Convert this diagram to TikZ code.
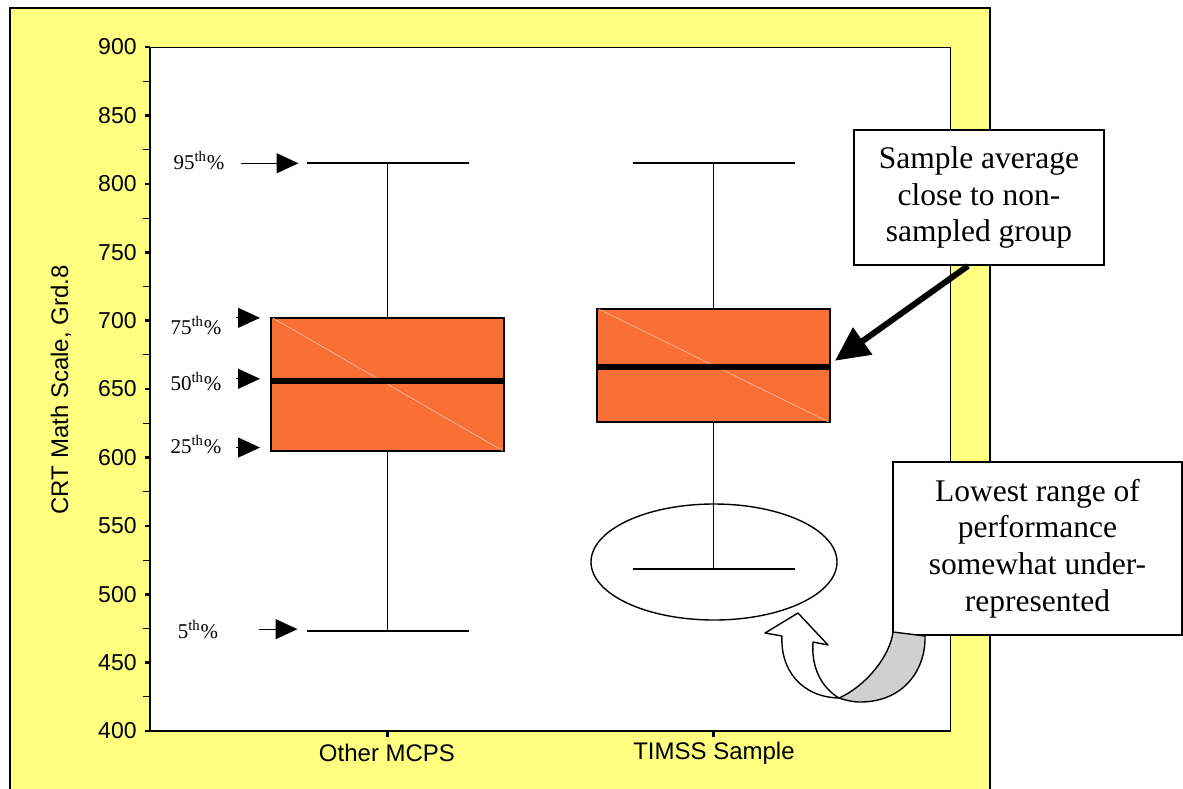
\documentclass[tikz,border=0pt]{standalone}
\usepackage{fontspec}
\setmainfont{Liberation Serif}
\setsansfont{Liberation Sans}
\usetikzlibrary{arrows.meta,positioning,calc,shapes.geometric}
\definecolor{frame}{HTML}{FFFF80}
\definecolor{boxfill}{HTML}{F87035}
\definecolor{backside}{HTML}{D0D0D0}
\newcommand{\val}[1]{731-(#1-400)*1.368}
\tikzset{
  ticklabel/.style={font=\sffamily\fontsize{11.5}{13}\selectfont,anchor=east,inner sep=0pt},
  catlabel/.style={font=\sffamily\fontsize{12}{14}\selectfont,inner sep=0pt},
  pct/.style={font=\fontsize{10.5}{12}\selectfont,inner sep=0pt},
  pctarrow/.style={-{Triangle[length=11pt,width=10pt]},line width=0.6pt},
  callout/.style={draw,line width=0.9pt,fill=white,align=center,font=\fontsize{15.75}{18.3}\selectfont,inner sep=0pt},
  pointer/.style={-{Triangle[length=17pt,width=16pt]},line width=3pt},
  whisker/.style={line width=0.8pt},
  iqr/.style={draw,line width=1pt,fill=boxfill},
  median/.style={line width=3pt},
  ribbon/.style={draw,line width=0.7pt,line join=round}
}
\begin{document}
\begin{tikzpicture}[x=0.5pt,y=-0.5pt]
  \useasboundingbox (0,0) rectangle (1183,788);
  \clip (0,0) rectangle (1183,788);
  \draw[line width=0.8pt,fill=frame] (10,8) rectangle (990,800);
  \draw[line width=0.5pt,fill=white] (150,47) rectangle (950,731);
  \draw[line width=1pt] (150,47) -- (150,731) -- (950,731);

  \foreach \v in {400,450,...,900} {
    \draw[line width=1.3pt] (145,{\val{\v}}) -- (150,{\val{\v}});
    \node[ticklabel] (yl\v) at (137,{\val{\v}}) {\v};
  }
  \foreach \v in {425,475,...,875}
    \draw[line width=0.5pt] (143,{\val{\v}}) -- (150,{\val{\v}});
  \node[catlabel,rotate=90] (ytitle) at (61,390) {CRT Math Scale, Grd.8};

  \foreach \g/\cx/\lo/\qa/\md/\qc/\hi in {other/387.5/473/605/656/702/815,timss/713.5/518.4/626/666.3/708.5/815} {
    \draw[line width=1.3pt] (\cx,731) -- (\cx,737);
    \draw[whisker] (\cx,{\val{\hi}}) -- (\cx,{\val{\lo}});
    \draw[whisker] ({\cx-81},{\val{\hi}}) -- ({\cx+81},{\val{\hi}});
    \draw[whisker] ({\cx-81},{\val{\lo}}) -- ({\cx+81},{\val{\lo}});
    \draw[iqr] ({\cx-116.5},{\val{\qa}}) rectangle ({\cx+116.5},{\val{\qc}});
    \draw[boxfill!45!white,line width=0.3pt] ({\cx-115},{\val{\qc}}) -- ({\cx+115},{\val{\qa}});
    \draw[median] ({\cx-116.5},{\val{\md}}) -- ({\cx+116.5},{\val{\md}});
    \coordinate (\g-hi) at ({\cx-81},{\val{\hi}});
    \coordinate (\g-lo) at ({\cx-81},{\val{\lo}});
    \coordinate (\g-q3) at ({\cx-116.5},{\val{\qc}});
    \coordinate (\g-md) at ({\cx-116.5},{\val{\md}});
    \coordinate (\g-q1) at ({\cx-116.5},{\val{\qa}});
    \coordinate (\g-mdr) at ({\cx+116.5},{\val{\md}});
  }
  \node[catlabel] (cat1) at (387,753) {Other MCPS};
  \node[catlabel] (cat2) at (714,753) {TIMSS Sample};

  \node[pct] (p95) at (199,161) {95\textsuperscript{th}\%};
  \node[pct] (p75) at (196,326) {75\textsuperscript{th}\%};
  \node[pct] (p50) at (196,382) {50\textsuperscript{th}\%};
  \node[pct] (p25) at (196,445) {25\textsuperscript{th}\%};
  \node[pct] (p05) at (198,630) {5\textsuperscript{th}\%};
  \draw[pctarrow] ([xshift=-33pt]other-hi) -- ([xshift=-4pt]other-hi);
  \draw[pctarrow] ([xshift=-17.5pt]other-q3) -- ([xshift=-5.5pt]other-q3);
  \draw[pctarrow] ([xshift=-17.5pt,yshift=1pt]other-md) -- ([xshift=-5.5pt,yshift=1pt]other-md);
  \draw[pctarrow] ([xshift=-17.5pt,yshift=1.5pt]other-q1) -- ([xshift=-5.5pt,yshift=1.5pt]other-q1);
  \draw[pctarrow] ([xshift=-24pt,yshift=1pt]other-lo) -- ([xshift=-4.5pt,yshift=1pt]other-lo);

  \node[draw,ellipse,line width=0.7pt,minimum width=123pt,minimum height=58pt] (tail) at (714,562) {};

  \node[callout,minimum width=125pt,minimum height=67.5pt] (avgnote) at (979,197.5) {Sample average\\close to non-\\sampled group};
  \draw[pointer] ([xshift=-5.5pt]avgnote.south) -- ([shift={(2.5pt,3pt)}]timss-mdr);

  \node[callout,minimum width=144.5pt,minimum height=86.5pt] (lownote) at (1037.5,548.5) {Lowest range of\\performance\\somewhat under-\\represented};
  \draw[ribbon,fill=backside] (893,632) -- (925,636) .. controls (926,668) and (905,702) .. (860,702)
    .. controls (852,702) and (845,700) .. (839,698) .. controls (866,686) and (890,656) .. (893,632) -- cycle;
  \draw[ribbon,fill=white] (839,698) .. controls (822,688) and (811,668) .. (813,642) -- (828,645) -- (798,613)
    -- (765,633) -- (782,636) .. controls (780,668) and (800,697) .. (839,698) -- cycle;
\end{tikzpicture}
\end{document}
